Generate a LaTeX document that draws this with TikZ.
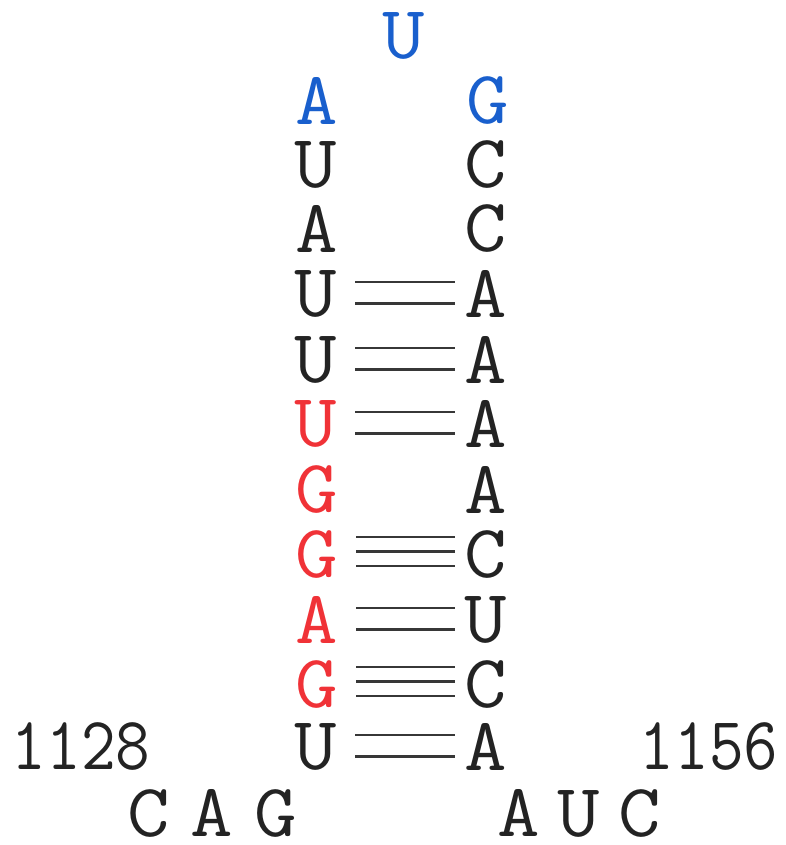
\documentclass[tikz,border=0pt]{standalone}
\usetikzlibrary{calc}
\definecolor{nblue}{RGB}{25,95,205}
\definecolor{nred}{RGB}{240,50,55}
\definecolor{nblack}{RGB}{35,35,35}
\definecolor{bondgray}{RGB}{55,55,55}
\newcommand{\bigtt}{\fontsize{66}{66}\selectfont\ttfamily}
\newcommand{\tall}[1]{\scalebox{1.02}[1.14]{#1}}
\newcommand{\wl}[1]{\scalebox{1.25}[1.14]{#1}}
\tikzset{
  nt/.style={font=\bigtt, inner sep=0pt, text=nblack},
  bondline/.style={draw=bondgray, line width=2.3pt}
}
\begin{document}
\begin{tikzpicture}[x=1pt,y=-1pt]
\useasboundingbox (0,0) rectangle (785,845);
% loop
\node[nt,text=nblue] (top) at (404,36) {\wl{U}};
\node[nt,text=nblue] (l1) at (317,101) {\wl{A}};
\node[nt,text=nblue] (r1) at (488,101) {\wl{G}};
\node[nt] (l2) at (316,165) {\wl{U}};
\node[nt] (r2) at (486,165) {\wl{C}};
\node[nt] (l3) at (317,229) {\wl{A}};
\node[nt] (r3) at (486,229) {\wl{C}};
\node[nt] (l4) at (316,294) {\wl{U}};
\node[nt] (r4) at (486,294) {\wl{A}};
\node[nt] (l5) at (316,360) {\wl{U}};
\node[nt] (r5) at (486,360) {\wl{A}};
\node[nt,text=nred] (l6) at (316,424) {\wl{U}};
\node[nt] (r6) at (486,424) {\wl{A}};
\node[nt,text=nred] (l7) at (317,490) {\wl{G}};
\node[nt] (r7) at (486,490) {\wl{A}};
\node[nt,text=nred] (l8) at (317,555) {\wl{G}};
\node[nt] (r8) at (486,555) {\wl{C}};
\node[nt,text=nred] (l9) at (317,620) {\wl{A}};
\node[nt] (r9) at (486,620) {\wl{U}};
\node[nt,text=nred] (l10) at (317,685) {\wl{G}};
\node[nt] (r10) at (486,685) {\wl{C}};
\node[nt] (l11) at (316,747) {\wl{U}};
\node[nt] (r11) at (486,747) {\wl{A}};
% labels
\node[nt] (n1128) at (81,747) {\tall{1128}};
\node[nt] (n1156) at (709,747) {\tall{1156}};
\node[nt] (cag) at (212,813) {\wl{C}\hspace{21pt}\wl{A}\hspace{21pt}\wl{G}};
\node[nt] (auc) at (579,813) {\wl{A}\hspace{18pt}\wl{U}\hspace{18pt}\wl{C}};
% double bonds
\foreach \i in {4,5,6,9,11}{
  \foreach \d in {-12,9.5}{
    \draw[bondline] ($(l\i)+(39,\d)$) -- ($(r\i)+(-31,\d)$);
  }
}
% triple bonds
\foreach \i in {8,10}{
  \foreach \d in {-18,-3.5,11}{
    \draw[bondline] ($(l\i)+(39,\d)$) -- ($(r\i)+(-31,\d)$);
  }
}
\end{tikzpicture}
\end{document}
